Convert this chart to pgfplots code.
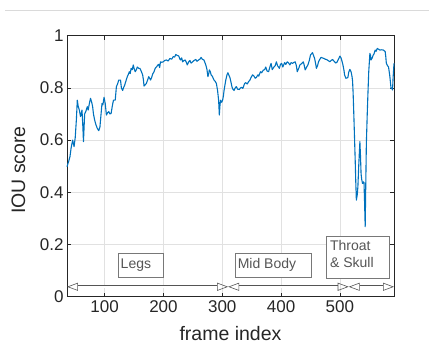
\documentclass[border=0pt]{standalone}
\usepackage{pgfplots}
\pgfplotsset{compat=1.18}
\usepackage{fontspec}
\setmainfont{Liberation Sans}
\usetikzlibrary{arrows.meta}
\definecolor{mblue}{RGB}{0,114,189}
\definecolor{axgray}{RGB}{38,38,38}
\definecolor{boxgray}{RGB}{120,120,120}
\definecolor{txtgray}{RGB}{85,85,85}
\pgfplotstableread{
x y
36 0.498
39 0.52
41 0.536
43 0.57
45.6 0.60
48 0.575
50 0.61
52 0.68
53.5 0.753
55 0.73
57 0.715
59 0.69
61.5 0.715
63 0.65
64 0.594
66 0.70
68 0.71
70.5 0.728
72 0.715
74 0.74
76 0.76
78 0.745
79.6 0.728
81 0.70
83 0.677
85 0.66
87.5 0.645
90 0.636
92 0.65
93 0.677
95.5 0.74
97 0.735
99 0.764
101 0.74
103 0.696
105 0.705
107 0.709
109 0.70
111 0.702
113 0.73
115 0.753
118 0.753
120 0.805
122 0.815
124 0.83
127 0.83
128.5 0.80
130.6 0.79
132 0.80
134 0.81
136 0.825
138.5 0.843
140 0.85
142 0.862
143.5 0.855
145 0.875
147 0.87
148.7 0.888
150 0.875
152 0.862
154 0.87
155.5 0.88
158 0.875
160 0.875
162 0.865
164.6 0.85
166 0.83
167 0.807
169 0.812
171 0.817
173 0.83
175 0.843
177 0.835
178 0.83
180 0.84
181.6 0.853
184 0.862
186 0.875
188 0.88
190.6 0.888
192 0.89
193.5 0.878
195 0.90
197 0.898
199.7 0.90
202 0.905
205 0.907
208 0.903
211 0.913
214 0.91
216.7 0.92
219 0.918
221 0.928
223 0.925
226 0.922
228 0.91
229 0.907
231 0.915
232.6 0.90
235 0.905
237 0.907
239 0.898
240.5 0.888
243 0.90
245 0.905
247 0.895
249.6 0.90
252 0.905
255 0.909
257 0.902
259.8 0.907
262 0.91
264 0.917
266 0.91
268.8 0.907
270 0.90
272 0.888
274 0.87
275.6 0.843
277 0.855
278 0.869
280 0.86
281 0.85
283 0.845
286 0.83
288 0.825
290 0.817
292 0.79
293.8 0.753
295 0.696
296 0.73
297 0.753
299 0.745
300.6 0.753
302 0.77
303 0.79
304.5 0.81
306 0.83
308 0.85
309.6 0.858
311 0.85
313 0.84
315 0.82
316.4 0.805
318 0.795
320 0.79
322 0.80
324 0.805
326 0.795
329 0.794
331 0.80
333 0.802
335 0.798
338 0.817
340 0.82
342.5 0.815
345 0.825
347 0.83
349 0.84
351.5 0.85
354 0.845
356 0.837
358 0.84
360.6 0.85
362 0.845
365 0.862
367 0.858
369.7 0.868
372 0.87
374 0.88
376 0.865
378.7 0.862
381 0.88
383 0.894
385 0.87
387.8 0.88
390 0.885
392 0.90
394 0.885
397 0.875
399 0.89
401 0.894
403 0.88
406 0.897
408 0.89
410.5 0.90
413 0.895
415 0.888
417 0.897
419.5 0.894
422 0.898
424 0.90
426 0.885
427.5 0.862
430 0.875
432 0.888
435 0.893
437.7 0.90
439 0.89
441 0.869
443 0.878
445.6 0.888
448 0.905
450 0.926
451.5 0.93
453.5 0.935
455 0.925
457 0.913
459 0.89
460 0.875
462 0.885
463.7 0.90
466 0.91
468 0.917
470 0.915
472.8 0.913
475 0.91
477 0.909
480 0.905
483 0.90
485 0.905
487.5 0.909
489 0.905
491 0.90
493 0.895
495.5 0.90
498 0.912
500 0.922
502 0.915
503 0.907
505 0.89
506.8 0.869
508 0.85
510 0.837
512 0.838
513.6 0.84
515 0.86
517 0.871
519 0.862
520.5 0.845
521.5 0.828
522.5 0.78
523.8 0.69
525 0.60
526 0.524
527 0.44
528 0.37
529.5 0.39
530.6 0.421
532 0.50
534 0.594
535 0.54
536 0.472
537 0.45
538.5 0.434
540 0.44
541 0.437
542 0.36
543 0.268
544 0.43
545 0.587
546.5 0.70
547.7 0.779
549 0.86
551 0.932
552 0.925
553 0.907
555 0.915
556.7 0.926
558 0.93
560 0.945
561.5 0.94
563.5 0.951
566 0.948
568 0.945
571 0.946
573.7 0.945
575.5 0.942
577 0.939
578 0.92
579 0.894
581 0.885
582.7 0.88
584 0.86
585 0.843
586 0.82
587 0.798
588 0.80
589.5 0.792
590.5 0.84
592 0.894
}\iou
\begin{document}
\begin{tikzpicture}
\useasboundingbox (0pt,0pt) rectangle (429pt,345pt);
\draw[color={rgb,255:red,218;green,218;blue,218}, line width=0.8pt] (5pt,335pt) -- (429pt,335pt);
\begin{axis}[
  at={(67pt,48.3pt)}, anchor=south west,
  width=327pt, height=261pt, scale only axis,
  xmin=36, xmax=592, ymin=0, ymax=1,
  xtick={100,200,300,400,500},
  ytick={0,0.2,0.4,0.6,0.8,1},
  yticklabels={0,0.2,0.4,0.6,0.8,1},
  xticklabels={100,200,300,400,500},
  tick align=inside,
  major tick length=4pt,
  xmajorgrids, ymajorgrids,
  grid style={color={rgb,255:red,225;green,225;blue,225}, line width=0.6pt},
  axis line style={color=axgray, line width=0.7pt},
  tick style={color=axgray, line width=0.6pt},
  ticklabel style={font=\fontsize{17}{20}\selectfont, color=axgray},
  /pgf/number format/assume math mode=true,
  xlabel={frame index},
  ylabel={IOU score},
  label style={font=\fontsize{19.5}{22}\selectfont, color=axgray},
  xlabel style={at={(axis description cs:0.5,0)}, anchor=base, yshift=-44pt},
  ylabel style={at={(axis description cs:-0.128,0.485)}, anchor=base},
  clip=false,
]
\addplot[color=mblue, line width=1.1pt, line join=round, no marks] table[x=x,y=y] {\iou};
% arrows
\draw[double=white, color=txtgray, double distance=2.2pt, line width=0.6pt,
  {Stealth[open,length=11pt,width=8pt,inset=0pt]}-{Stealth[open,length=11pt,width=8pt,inset=0pt]}]
  (axis cs:36,0.038) -- (axis cs:310,0.038);
\draw[double=white, color=txtgray, double distance=2.2pt, line width=0.6pt,
  {Stealth[open,length=11pt,width=8pt,inset=0pt]}-{Stealth[open,length=11pt,width=8pt,inset=0pt]}]
  (axis cs:310,0.038) -- (axis cs:515,0.038);
\draw[double=white, color=txtgray, double distance=2.2pt, line width=0.6pt,
  {Stealth[open,length=11pt,width=8pt,inset=0pt]}-{Stealth[open,length=11pt,width=8pt,inset=0pt]}]
  (axis cs:515,0.038) -- (axis cs:592,0.038);
% boxes
\draw[color=boxgray, line width=0.7pt, fill=white] (axis cs:122.6,0.073) rectangle (axis cs:199,0.166);
\node[anchor=west, font=\fontsize{14}{16}\selectfont, color=txtgray, inner sep=0pt] at (axis cs:127,0.12) {Legs};
\draw[color=boxgray, line width=0.7pt, fill=white] (axis cs:321.6,0.073) rectangle (axis cs:452,0.166);
\node[anchor=west, font=\fontsize{14}{16}\selectfont, color=txtgray, inner sep=0pt] at (axis cs:326,0.12) {Mid Body};
\draw[color=boxgray, line width=0.7pt, fill=white] (axis cs:477.6,0.07) rectangle (axis cs:584,0.233);
\node[anchor=north west, align=left, font=\fontsize{14}{17}\selectfont, color=txtgray, inner sep=0pt] at (axis cs:483,0.215) {Throat\\\& Skull};
\end{axis}
\end{tikzpicture}
\end{document}
